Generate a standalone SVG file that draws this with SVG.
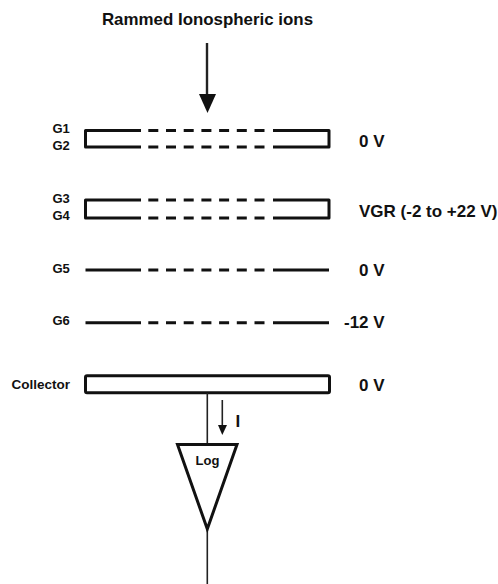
<svg xmlns="http://www.w3.org/2000/svg" width="498" height="584" viewBox="0 0 498 584">
<style>
text{font-family:"Liberation Sans",Arial,sans-serif;font-weight:bold;fill:#111}
.t{font-size:16.900px}.g{font-size:13px}.v{font-size:17px}
.s{fill:none;stroke:#111;stroke-width:3;stroke-linejoin:round}
.d{fill:none;stroke:#111;stroke-width:3;stroke-dasharray:10 7.7}
.w{fill:none;stroke:#222;stroke-width:1.6}
.a{fill:#111;stroke:none}
</style>
<rect width="498" height="584" fill="#fff"/>
<text class="t" x="207.500" y="25" text-anchor="middle">Rammed Ionospheric ions</text>
<g id="ion-arrow"><path class="w" d="M207 43V95" style="stroke-width:2.4"/><path class="a" d="M199 94H216L207.500 113Z"/></g>
<g id="g1-g2">
<text class="g" x="52.500" y="132.500">G1</text><text class="g" x="52.500" y="150">G2</text>
<path class="s" d="M141 130.500H85.500V147H141M273 130.500H329V147H273"/>
<path class="d" d="M148.300 130.500H268M148.300 147H268"/>
</g>
<g id="g3-g4">
<text class="g" x="52.500" y="202.500">G3</text><text class="g" x="52.500" y="220">G4</text>
<path class="s" d="M141 200H85.500V218H141M273 200H329V218H273"/>
<path class="d" d="M148.300 200H268M148.300 218H268"/>
</g>
<g id="g5">
<text class="g" x="52.500" y="272.700">G5</text>
<path class="s" d="M85.500 270H141M273 270H329"/>
<path class="d" d="M148.300 270H268"/>
</g>
<g id="g6">
<text class="g" x="52.500" y="325">G6</text>
<path class="s" d="M85.500 322.700H141M273 322.700H329"/>
<path class="d" d="M148.300 322.700H268"/>
</g>
<g id="collector">
<text class="g" x="70" y="388.700" text-anchor="end" style="font-size:13.500px">Collector</text>
<rect class="s" x="85.500" y="375.700" width="244" height="17" rx="1.500"/>
</g>
<g id="labels">
<text class="v" x="359" y="147">0 V</text>
<text class="v" x="359" y="216.500">VGR (-2 to +22 V)</text>
<text class="v" x="359" y="275.500">0 V</text>
<text class="v" x="344" y="328">-12 V</text>
<text class="v" x="359" y="390.500">0 V</text>
</g>
<g id="connectors">
<path class="w" d="M207.300 393V444M207.300 530V584"/>
<path class="w" d="M222.300 400V427"/>
<path class="a" d="M218 425H227L222.300 435Z"/>
</g>
<g id="log-amp">
<path d="M177.500 444.500H237L207.300 529Z" fill="#fff" stroke="#111" stroke-width="3" stroke-linejoin="miter"/>
<text class="g" x="207.500" y="465" text-anchor="middle">Log</text>
</g>
<text class="v" x="235.500" y="427">I</text>
</svg>
